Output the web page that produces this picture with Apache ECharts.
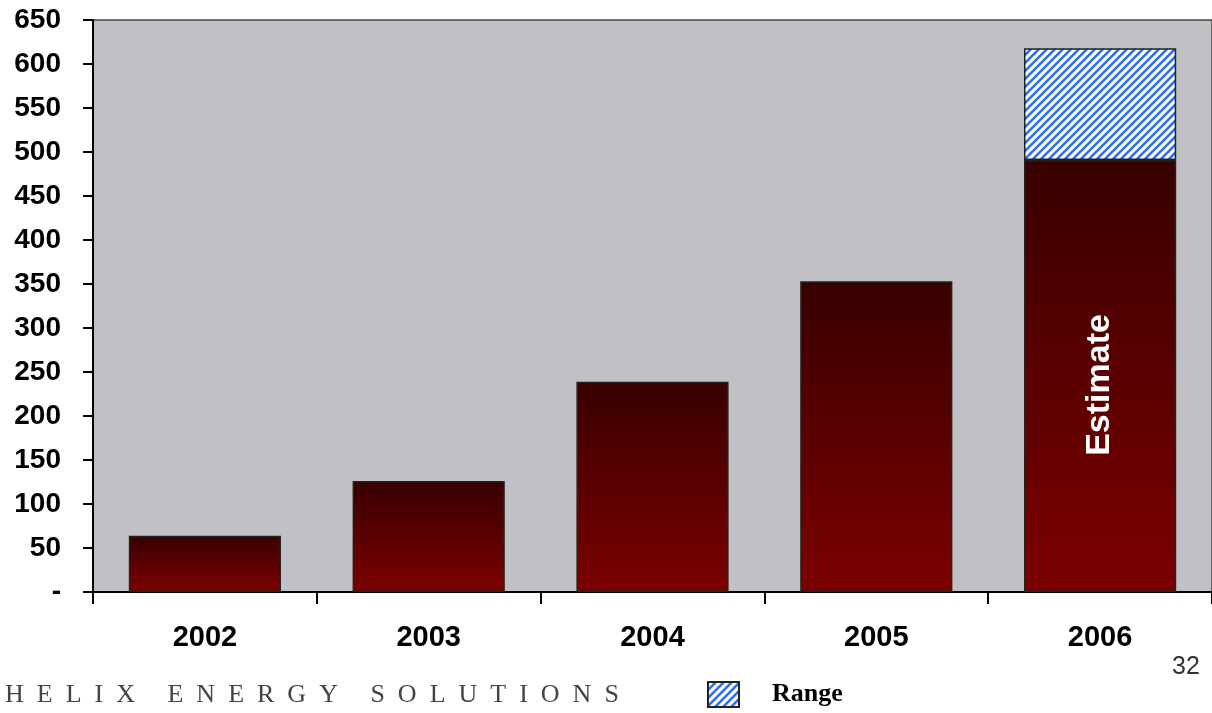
<!DOCTYPE html>
<html>
<head>
<meta charset="utf-8">
<script src="https://cdn.jsdelivr.net/npm/echarts@6/dist/echarts.min.js"></script>
<style>html,body{margin:0;padding:0;background:#fff;}#c{width:1212px;height:713px;}</style>
</head>
<body>
<div id="c"></div>
<script>
const categories = ['2002', '2003', '2004', '2005', '2006'];
const estimateValues = [64, 126, 239, 353, 491];
const rangeValues = [null, null, null, null, 127];
const barLabels = ['', '', '', '', 'Estimate'];

function makeHatch() {
  const s = 8;
  const c = document.createElement('canvas');
  c.width = s; c.height = s;
  const g = c.getContext('2d');
  g.fillStyle = '#ffffff';
  g.fillRect(0, 0, s, s);
  g.strokeStyle = '#2f6cf0';
  g.lineWidth = 2.6;
  g.beginPath();
  g.moveTo(-2, s + 2); g.lineTo(s + 2, -2);
  g.moveTo(-2 - s, s + 2); g.lineTo(2, -2);
  g.moveTo(s - 2, s + 2); g.lineTo(s + 2 + s, -2);
  g.stroke();
  return c;
}
const hatch = makeHatch();

const chart = echarts.init(document.getElementById('c'));
chart.setOption({
  animation: false,
  grid: {
    left: 93, top: 20, width: 1120, height: 572,
    show: true, backgroundColor: '#c0c0c5', borderColor: '#444', borderWidth: 1.5
  },
  legend: {
    data: [{ name: 'Range', icon: 'rect' }],
    left: 707, top: 681, padding: 0,
    itemWidth: 31, itemHeight: 25, itemGap: 10,
    textStyle: { fontFamily: 'Liberation Serif', fontWeight: 'bold', fontSize: 26, color: '#000', padding: [0, 0, 0, 28] }
  },
  xAxis: {
    type: 'category',
    data: categories,
    axisLine: { lineStyle: { color: '#000', width: 2 } },
    axisTick: { show: true, length: 12, alignWithLabel: false, lineStyle: { color: '#000', width: 2 } },
    axisLabel: { margin: 31, fontFamily: 'Liberation Sans', fontWeight: 'bold', fontSize: 29, color: '#000' }
  },
  yAxis: {
    type: 'value',
    min: 0, max: 650, interval: 50,
    splitLine: { show: false },
    axisLine: { show: true, lineStyle: { color: '#000', width: 2 } },
    axisTick: { show: true, length: 10, lineStyle: { color: '#000', width: 2 } },
    axisLabel: {
      margin: 32, fontFamily: 'Liberation Sans', fontWeight: 'bold', fontSize: 28, color: '#000',
      formatter: v => v === 0 ? '-' : String(v)
    }
  },
  series: [
    {
      name: 'Estimate', type: 'bar', stack: 't', barWidth: '68%',
      data: estimateValues,
      itemStyle: {
        color: new echarts.graphic.LinearGradient(0, 0, 0, 1, [
          { offset: 0, color: '#380000' },
          { offset: 0.55, color: '#5e0000' },
          { offset: 1, color: '#7c0000' }
        ]),
        borderColor: '#222', borderWidth: 1.5
      },
      label: {
        show: true, position: 'inside', rotate: 90, offset: [-9, 0],
        formatter: p => barLabels[p.dataIndex],
        color: '#fff', fontFamily: 'Liberation Sans', fontWeight: 'bold', fontSize: 34
      }
    },
    {
      name: 'Range', type: 'bar', stack: 't', barWidth: '68%',
      data: rangeValues,
      itemStyle: {
        color: { image: hatch, repeat: 'repeat' },
        borderColor: '#222', borderWidth: 1.5
      }
    }
  ],
  graphic: [
    {
      type: 'text', left: 5, top: 682,
      style: {
        text: 'H  E  L  I  X     E  N  E  R  G  Y     S  O  L  U  T  I  O  N  S',
        font: '26px "Liberation Serif"', fill: '#444'
      }
    },
    {
      type: 'text', left: 1172, top: 655,
      style: { text: '32', font: '25px "Liberation Sans"', fill: '#333' }
    }
  ]
});
</script>
</body>
</html>
